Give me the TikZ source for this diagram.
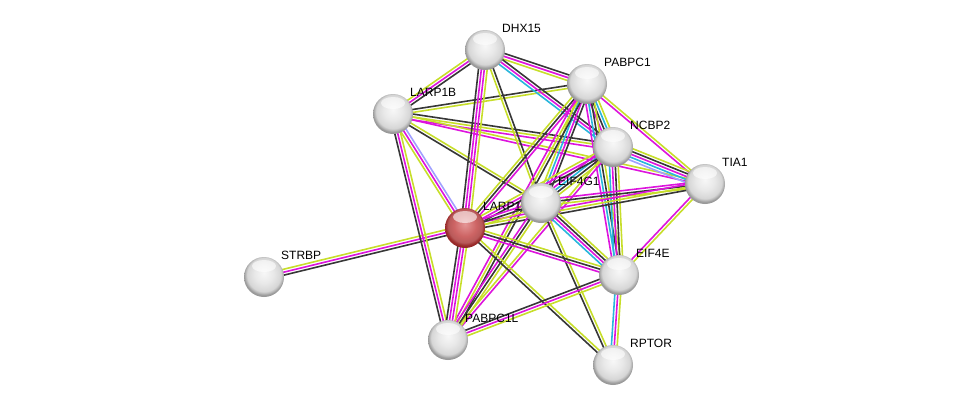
\documentclass[tikz,border=0pt]{standalone}
\usepackage{fontspec}
\setmainfont{Liberation Sans}
\usepackage{tikz}
\usetikzlibrary{calc}
\usetikzlibrary{shadings}
\pgfdeclarelayer{bg}
\pgfsetlayers{bg,main}
\definecolor{mtext}{RGB}{199, 222, 42}
\definecolor{mexp}{RGB}{221, 20, 221}
\definecolor{mdb}{RGB}{40, 182, 220}
\definecolor{mco}{RGB}{55, 55, 55}
\definecolor{mhom}{RGB}{160, 160, 255}
\definecolor{mredin}{RGB}{228, 150, 150}
\definecolor{mredmid}{RGB}{205, 100, 100}
\definecolor{mredrim}{RGB}{150, 40, 40}
\pgfdeclareradialshading{greyball}{\pgfqpoint{0bp}{5bp}}{%
  color(0bp)=(white!97!black); color(12bp)=(white!91!black);
  color(21bp)=(white!84!black); color(24bp)=(white!68!black);
  color(25bp)=(white!60!black); color(50bp)=(white!60!black)}
\pgfdeclareradialshading{redball}{\pgfqpoint{0bp}{5bp}}{%
  color(0bp)=(mredin); color(14bp)=(mredmid);
  color(21bp)=(mredmid!90!black); color(24bp)=(mredrim!85!mredmid);
  color(25bp)=(mredrim); color(50bp)=(mredrim)}
\tikzset{tm/.style = {draw=mtext, line width=1.6pt}}
\tikzset{ex/.style = {draw=mexp, line width=1.6pt}}
\tikzset{db/.style = {draw=mdb, line width=1.6pt}}
\tikzset{co/.style = {draw=mco, line width=1.6pt}}
\tikzset{ho/.style = {draw=mhom, line width=1.6pt}}
\tikzset{prot/.style = {circle, inner sep = 0, minimum size = 40, shading=greyball,
                        path picture={\fill [white, opacity=0.6]
                          ($(path picture bounding box.north)+(0, 9)$) ellipse (12 and 6);}}}
\tikzset{lbl/.style = {anchor=west, inner sep = 0, font=\fontsize{12}{13}\selectfont}}
% one coloured line per evidence channel, side by side
\newcommand{\link}[3]{%
  \foreach \c [count=\n] in {#3} {\xdef\nlines{\n}}%
  \foreach \c [count=\i] in {#3} {%
    \pgfmathsetmacro\off{(\i - (\nlines + 1) / 2) * 2.9}%
    \draw [\c] ($(#1)!\off pt!90:(#2)$) -- ($(#2)!\off pt!-90:(#1)$);
  }}

\begin{document}
\begin{tikzpicture}[x=1pt, y=-1pt]
    \useasboundingbox (0, 0) rectangle (976, 410);

    \foreach \n/\x/\y in {DHX15/485/50, PABPC1/587/84, LARP1B/393/114, NCBP2/613/147,
                          TIA1/705/184, EIF4G1/541/203, STRBP/264/277, EIF4E/619/275,
                          PABPC1L/448/340, RPTOR/613/365} {
      \node [prot] (\n) at (\x, \y) {};
      \node [lbl] (\n-l) at (\x + 17, \y - 22) {\n};
    }
    \node [prot, shading=redball] (LARP1) at (465, 228) {};
    \node [lbl] (LARP1-l) at (483, 206) {LARP1};

    \begin{pgfonlayer}{bg}
      \link{LARP1}{STRBP}{tm,ex,co}
      \link{LARP1B}{LARP1}{tm,ex,ho}
      \link{LARP1B}{PABPC1L}{co,ex,tm}
      \link{LARP1B}{DHX15}{co,ex,tm}
      \link{LARP1B}{PABPC1}{tm,co}
      \link{LARP1B}{NCBP2}{ex,tm,co}
      \link{LARP1B}{TIA1}{ex,tm}
      \link{LARP1B}{EIF4G1}{co,tm}

      \link{DHX15}{PABPC1}{tm,ex,co}
      \link{DHX15}{NCBP2}{db,ex,co}
      \link{DHX15}{LARP1}{co,ex,ex,tm}
      \link{DHX15}{EIF4G1}{tm,co}

      \link{PABPC1}{NCBP2}{ex,co,db,tm}
      \link{PABPC1}{EIF4G1}{tm,db,ex,co}
      \link{PABPC1}{LARP1}{tm,co,ex}
      \link{PABPC1}{EIF4E}{ex,db,co,tm}
      \link{PABPC1}{PABPC1L}{ex,tm,co}
      \link{PABPC1}{TIA1}{ex,tm}

      \link{NCBP2}{TIA1}{ho,db,ex,co,tm}
      \link{NCBP2}{EIF4G1}{ex,db,co,tm}
      \link{NCBP2}{EIF4E}{db,ex,co,tm}
      \link{NCBP2}{LARP1}{tm,ex,co}
      \link{NCBP2}{PABPC1L}{tm,ex}

      \link{TIA1}{EIF4G1}{ex,co,tm}
      \link{TIA1}{LARP1}{ex,tm,co}
      \link{TIA1}{EIF4E}{ex,tm}

      \link{EIF4G1}{LARP1}{ex,co,tm}
      \link{EIF4G1}{EIF4E}{db,ex,co,tm}
      \link{EIF4G1}{PABPC1L}{ex,co,tm}
      \link{EIF4G1}{RPTOR}{co,tm}

      \link{LARP1}{PABPC1L}{co,ex,ex,tm}
      \link{LARP1}{EIF4E}{ex,co,tm}
      \link{LARP1}{RPTOR}{co,tm}

      \link{EIF4E}{PABPC1L}{co,ex,tm}
      \link{EIF4E}{RPTOR}{db,ex,tm}
    \end{pgfonlayer}
  \end{tikzpicture}
\end{document}
